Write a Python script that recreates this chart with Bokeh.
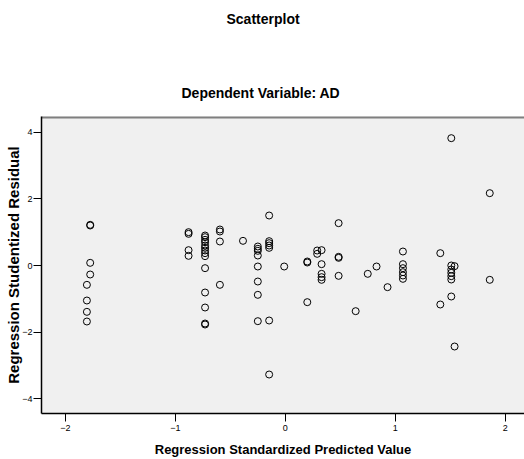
from bokeh.plotting import figure
from bokeh.models import Range1d, FixedTicker, Title
from bokeh.embed import file_html
from bokeh.resources import INLINE

# Regression standardized predicted values (x) and studentized residuals (y)
pred = [-1.775, -1.775, -1.775, -1.775, -1.805, -1.805, -1.805, -1.805,
        -0.88, -0.88, -0.88, -0.88,
        -0.73, -0.73, -0.73, -0.73, -0.73, -0.73, -0.73, -0.73, -0.73, -0.73, -0.73, -0.73, -0.73, -0.73,
        -0.595, -0.595, -0.595, -0.595,
        -0.385,
        -0.25, -0.25, -0.25, -0.25, -0.25, -0.25, -0.25, -0.25,
        -0.147, -0.147, -0.147, -0.147, -0.147, -0.147, -0.147,
        -0.01,
        0.20, 0.20, 0.20,
        0.29, 0.33, 0.29, 0.33, 0.33, 0.33, 0.33,
        0.485, 0.485, 0.485, 0.485,
        0.64, 0.75, 0.83, 0.93,
        1.07, 1.07, 1.07, 1.07, 1.07, 1.07,
        1.41, 1.41,
        1.51, 1.51, 1.54, 1.51, 1.51, 1.51, 1.51, 1.51, 1.54,
        1.86, 1.86]
resid = [1.20, 1.22, 0.08, -0.27, -0.58, -1.05, -1.39, -1.68,
         1.00, 0.95, 0.46, 0.29,
         0.90, 0.85, 0.77, 0.70, 0.60, 0.53, 0.45, 0.37, 0.28, -0.08, -0.81, -1.26, -1.74, -1.77,
         1.08, 1.02, 0.72, -0.58,
         0.74,
         0.57, 0.50, 0.44, 0.30, -0.03, -0.48, -0.88, -1.67,
         1.50, 0.73, 0.67, 0.60, 0.53, -1.65, -3.27,
         -0.03,
         0.12, 0.09, -1.10,
         0.45, 0.46, 0.35, 0.04, -0.25, -0.35, -0.43,
         1.27, 0.26, 0.23, -0.31,
         -1.37, -0.25, -0.03, -0.65,
         0.42, 0.04, -0.08, -0.20, -0.30, -0.40,
         0.37, -1.17,
         3.82, 0.00, -0.02, -0.12, -0.22, -0.32, -0.42, -0.93, -2.43,
         2.17, -0.43]

x_ticks = [-2, -1, 0, 1, 2]
y_ticks = [-4, -2, 0, 2, 4]

X_MIN, X_MAX = -2.218, 2.176
Y_MIN, Y_MAX = -4.44, 4.47

FONT = "Liberation Sans"

p = figure(width=524, height=459,
           x_range=Range1d(X_MIN, X_MAX), y_range=Range1d(Y_MIN, Y_MAX),
           output_backend="svg", toolbar_location=None,
           min_border_left=41, min_border_right=0, min_border_top=116, min_border_bottom=46)

p.background_fill_color = "#f0f0f0"
p.border_fill_color = "white"
p.grid.visible = False
p.outline_line_color = None

title_style = dict(text_font=FONT, text_font_size="14px", text_font_style="bold", text_color="black")
sub = Title(text="Dependent Variable: AD", align="left", offset=140, standoff=32, **title_style)
spacer = Title(text=" ", align="left", offset=0, standoff=17, **title_style)
main = Title(text="Scatterplot", align="left", offset=185, standoff=10, **title_style)
p.add_layout(sub, "above")
p.add_layout(spacer, "above")
p.add_layout(main, "above")

# top frame border (grey)
p.segment(x0=[X_MIN], y0=[Y_MAX], x1=[X_MAX], y1=[Y_MAX], line_color="#7f7f7f", line_width=4)

p.scatter(pred, resid, marker="circle", size=7, fill_color=None,
          line_color="black", line_width=1)

for ax, ticks in ((p.xaxis[0], x_ticks), (p.yaxis[0], y_ticks)):
    ax.ticker = FixedTicker(ticks=ticks)
    ax.minor_tick_line_color = None
    ax.axis_line_color = "black"
    ax.axis_line_width = 1.5
    ax.major_tick_line_color = "black"
    ax.major_tick_in = 0
    ax.major_label_text_font = FONT
    ax.major_label_text_font_size = "9px"
    ax.major_label_text_color = "black"
    ax.axis_label_text_font = FONT
    ax.axis_label_text_font_style = "bold"
    ax.axis_label_text_color = "black"

p.xaxis.axis_label = "Regression Standardized Predicted Value"
p.yaxis.axis_label = "Regression Studentized Residual"
p.xaxis.axis_label_text_font_size = "13px"
p.yaxis.axis_label_text_font_size = "15px"
p.xaxis.major_tick_out = 8
p.xaxis.major_label_standoff = 3
p.xaxis.axis_label_standoff = 8
p.yaxis.major_tick_out = 8
p.yaxis.major_label_standoff = 1
p.yaxis.axis_label_standoff = -3

open("out.html", "w").write(file_html(p, INLINE))
